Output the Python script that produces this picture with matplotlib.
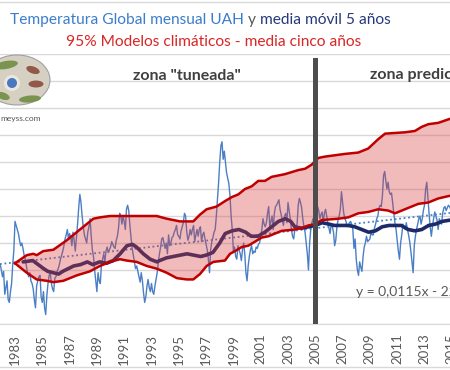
import numpy as np
import matplotlib
matplotlib.use('Agg')
import matplotlib.pyplot as plt
from matplotlib.patches import Ellipse, Circle

plt.rcParams['font.family'] = ['Lato', 'DejaVu Sans']

# UAH monthly anomalies, starting Oct 1981
uah_start = 1981 + 9 / 12
uah = [
    -0.15, -0.17, -0.16,
    -0.20, -0.25, -0.21, -0.38, -0.33, -0.28, -0.42, -0.44, -0.36, -0.30, -0.16, -0.05,  # 1982
    0.16, 0.13, 0.10, 0.07, 0.02, -0.02, 0.00, -0.04, -0.09, -0.12, -0.17, -0.22,  # 1983
    -0.25, -0.22, -0.28, -0.30, -0.34, -0.42, -0.48, -0.32, -0.28, -0.25, -0.24, -0.40,  # 1984
    -0.44, -0.36, -0.48, -0.53, -0.39, -0.30, -0.24, -0.22, -0.30, -0.34, -0.36, -0.26,  # 1985
    -0.25, -0.21, -0.19, -0.16, -0.12, -0.09, -0.06, -0.02, 0.03, 0.06, 0.10, 0.03,  # 1986
    0.07, 0.04, -0.02, 0.08, 0.02, -0.06, 0.04, 0.14, 0.26, 0.36, 0.30, 0.20,  # 1987
    0.12, 0.06, 0.03, 0.00, 0.08, 0.12, 0.18, 0.05, -0.05, -0.10, -0.20, -0.28,  # 1988
    -0.36, -0.22, -0.28, -0.30, -0.16, -0.12, -0.08, -0.14, -0.06, -0.03, -0.07, -0.05,  # 1989
    -0.03, 0.01, -0.01, -0.03, -0.04, 0.02, 0.05, 0.11, 0.22, 0.20, 0.14, 0.20,  # 1990
    0.16, 0.10, 0.25, 0.28, 0.24, 0.13, 0.04, -0.04, -0.09, -0.14, -0.19, -0.17,  # 1991
    -0.21, -0.25, -0.29, -0.22, -0.28, -0.37, -0.44, -0.40, -0.32, -0.27, -0.33, -0.36,  # 1992
    -0.30, -0.36, -0.38, -0.32, -0.27, -0.22, -0.14, -0.08, -0.03, 0.03, 0.04, 0.00,  # 1993
    -0.04, 0.00, -0.08, 0.06, -0.02, 0.00, 0.04, 0.05, 0.08, 0.10, 0.13, 0.06,  # 1994
    0.05, 0.03, 0.09, 0.12, 0.15, 0.22, 0.20, 0.08, 0.02, 0.05, 0.10, 0.06,  # 1995
    0.10, 0.13, 0.01, 0.06, 0.10, 0.05, 0.10, 0.12, 0.01, 0.06, 0.08, 0.03,  # 1996
    -0.01, -0.05, -0.12, -0.22, -0.05, 0.01, 0.04, 0.08, 0.10, 0.20, 0.32, 0.45,  # 1997
    0.60, 0.72, 0.75, 0.62, 0.68, 0.60, 0.52, 0.48, 0.44, 0.35, 0.20, 0.10,  # 1998
    -0.06, -0.03, -0.10, -0.12, -0.02, -0.05, -0.08, -0.13, -0.05, 0.00, -0.08, -0.22,  # 1999
    -0.28, -0.17, -0.10, -0.05, -0.02, -0.08, -0.06, -0.07, -0.03, -0.04, -0.01, 0.00,  # 2000
    0.05, 0.10, 0.18, 0.14, 0.12, 0.15, 0.22, 0.27, 0.12, 0.16, 0.20, 0.10,  # 2001
    0.22, 0.27, 0.28, 0.30, 0.32, 0.25, 0.21, 0.17, 0.13, 0.20, 0.22, 0.15,  # 2002
    0.30, 0.24, 0.18, 0.10, 0.05, 0.03, 0.10, 0.12, 0.14, 0.28, 0.33, 0.30,  # 2003
    0.26, 0.18, 0.12, 0.08, 0.00, -0.08, -0.20, 0.00, 0.10, 0.15, 0.18, 0.12,  # 2004
    0.20, 0.23, 0.27, 0.24, 0.18, 0.21, 0.23, 0.15, 0.22, 0.25, 0.20, 0.15,  # 2005
    0.11, 0.07, 0.14, 0.12, 0.08, -0.02, 0.02, 0.12, 0.17, 0.20, 0.25, 0.38,  # 2006
    0.30, 0.22, 0.18, 0.16, 0.12, 0.13, 0.15, 0.16, 0.14, 0.10, -0.04, 0.03,  # 2007
    -0.12, -0.20, -0.24, -0.14, -0.18, -0.21, -0.10, -0.03, 0.00, 0.05, 0.01, 0.02,  # 2008
    0.03, 0.08, 0.06, 0.06, 0.11, 0.14, 0.18, 0.20, 0.26, 0.28, 0.27, 0.35,  # 2009
    0.50, 0.53, 0.46, 0.40, 0.45, 0.38, 0.36, 0.37, 0.30, 0.22, 0.15, 0.10,  # 2010
    0.02, -0.06, -0.12, 0.00, 0.06, 0.14, 0.12, 0.10, 0.15, 0.10, 0.06, 0.01,  # 2011
    -0.06, -0.14, -0.22, -0.02, 0.05, 0.10, 0.14, 0.18, 0.20, 0.14, 0.18, 0.24,  # 2012
    0.28, 0.40, 0.45, 0.33, 0.22, 0.12, 0.05, 0.12, 0.18, 0.23, 0.20, 0.17,  # 2013
    0.10, 0.18, 0.16, 0.14, 0.22, 0.26, 0.27, 0.24, 0.26, 0.28, 0.27, 0.25,  # 2014
    0.26, 0.24, 0.22,  # 2015
]

# media movil 5 anos
ma_years = [1983.6, 1984.3, 1984.7, 1985.1, 1985.4, 1985.8, 1986.2, 1986.5, 1986.9, 1987.3,
            1987.8, 1988.3, 1988.7, 1989.2, 1989.7, 1990.2, 1990.7, 1991.2, 1991.6, 1991.9,
            1992.4, 1992.9, 1993.4, 1993.6, 1994.1, 1994.6, 1995.1, 1995.6, 1996.1, 1996.6,
            1997.0, 1997.5, 1998.0, 1998.4, 1998.9, 1999.4, 1999.9, 2000.3, 2000.8, 2001.3,
            2001.8, 2002.3, 2002.8, 2003.2, 2003.5, 2004.0, 2004.5, 2005.0, 2005.5, 2006.0,
            2006.4, 2006.9, 2007.4, 2007.9, 2008.4, 2008.9, 2009.4, 2009.9, 2010.4, 2010.8,
            2011.3, 2011.8, 2012.3, 2012.8, 2013.3, 2013.8, 2014.3, 2014.9]
ma_vals = [-0.14, -0.13, -0.16, -0.19, -0.21, -0.22, -0.23, -0.21, -0.19, -0.17,
           -0.16, -0.14, -0.16, -0.14, -0.15, -0.13, -0.08, -0.02, -0.01, -0.03,
           -0.08, -0.12, -0.14, -0.13, -0.11, -0.10, -0.09, -0.08, -0.09, -0.10,
           -0.09, -0.07, 0.00, 0.07, 0.09, 0.10, 0.08, 0.05, 0.05, 0.08,
           0.12, 0.16, 0.18, 0.16, 0.12, 0.11, 0.12, 0.13, 0.15, 0.14,
           0.13, 0.13, 0.13, 0.12, 0.10, 0.08, 0.09, 0.12, 0.13, 0.13,
           0.13, 0.10, 0.09, 0.10, 0.13, 0.14, 0.16, 0.17]

# 95% modelos climaticos (banda)
band_up_years = [1983.0, 1983.86, 1984.34, 1984.59, 1985.07, 1985.81, 1986.79, 1987.76, 1988.74, 1989.23,
                 1989.96, 1991.67, 1992.65, 1993.38, 1994.11, 1995.09, 1996.06, 1996.55, 1997.04, 1997.77,
                 1998.38, 1998.88, 1999.36, 1999.85, 2000.34, 2000.82, 2001.31, 2001.8, 2002.78, 2003.75,
                 2004.25, 2004.73, 2005.22, 2005.71, 2007.18, 2008.15, 2008.88, 2009.62, 2010.11, 2011.57,
                 2012.30, 2012.79, 2013.28, 2014.01, 2014.87, 2015.5]
band_up = [-0.15, -0.09, -0.08, -0.09, -0.06, -0.05, 0.02, 0.10, 0.18, 0.19,
           0.20, 0.20, 0.20, 0.20, 0.18, 0.16, 0.16, 0.21, 0.25, 0.27,
           0.31, 0.34, 0.36, 0.40, 0.42, 0.46, 0.46, 0.49, 0.51, 0.54,
           0.55, 0.58, 0.63, 0.64, 0.66, 0.67, 0.70, 0.77, 0.81, 0.82,
           0.83, 0.86, 0.88, 0.89, 0.92, 0.94]
band_low_years = [1983.0, 1983.86, 1984.59, 1985.32, 1985.81, 1986.54, 1987.52, 1988.49, 1989.23, 1989.96,
                  1990.69, 1991.18, 1991.91, 1992.65, 1993.38, 1994.11, 1994.85, 1995.58, 1996.06, 1996.55,
                  1997.04, 1997.53, 1998.38, 1998.75, 1999.12, 1999.61, 2000.09, 2000.58, 2001.07, 2001.56,
                  2002.05, 2002.54, 2003.51, 2004.0, 2004.49, 2004.98, 2005.47, 2006.69, 2007.42, 2008.15,
                  2008.88, 2009.62, 2010.35, 2010.84, 2011.33, 2011.81, 2012.55, 2013.28, 2014.01, 2014.87,
                  2015.5]
band_low = [-0.15, -0.22, -0.27, -0.28, -0.29, -0.28, -0.24, -0.21, -0.17, -0.14,
            -0.12, -0.13, -0.14, -0.17, -0.19, -0.22, -0.26, -0.27, -0.27, -0.23,
            -0.17, -0.14, -0.13, -0.08, -0.06, -0.03, -0.02, 0.01, 0.04, 0.05,
            0.07, 0.09, 0.10, 0.11, 0.13, 0.14, 0.17, 0.18, 0.19, 0.22,
            0.23, 0.25, 0.24, 0.22, 0.24, 0.26, 0.29, 0.30, 0.33, 0.35,
            0.37]

# tendencia lineal (extremos)
trend_years = [1981.9, 2015.5]
trend_vals = [-0.156, 0.23]
trend_label = 'y = 0,0115x - 22,948'

split_year = 2005
tick_years = list(range(1983, 2016, 2))

fig = plt.figure(figsize=(4.5, 3.7), dpi=100)
ax = fig.add_axes([0, 46 / 370, 470 / 450, 270 / 370])
px_per_year = 13.65
x_left = 1983 - 15 / px_per_year
ax.set_xlim(x_left, x_left + 470 / px_per_year)
ax.set_ylim(-0.6, 1.4)

ax.set_yticks(np.arange(-0.6, 1.41, 0.2))
ax.grid(axis='y', color='#d9d9d9', lw=1)
ax.set_axisbelow(True)
ax.set_xticks(tick_years)
ax.set_xticklabels([str(y) for y in tick_years])
ax.tick_params(axis='x', length=0, pad=7, labelsize=9.5, labelcolor='#595959', labelrotation=90)
ax.tick_params(axis='y', left=False, labelleft=False)
for s in ['top', 'left', 'right']:
    ax.spines[s].set_visible(False)
ax.spines['bottom'].set_color('#d9d9d9')

uah_x = uah_start + np.arange(len(uah)) / 12
ax.plot(uah_x, uah, color='#4a7fc6', lw=1, zorder=2)
ax.plot(trend_years, trend_vals, color='#4a7fc6', lw=1.3, ls=(0, (1, 1.5)), zorder=2.5)
ax.plot(ma_years, ma_vals, color='#1c2a68', lw=2.6, zorder=3, solid_capstyle='round')

ax.fill(np.r_[band_up_years, band_low_years[::-1]], np.r_[band_up, band_low[::-1]],
        color='#dc3c3c', alpha=0.35, lw=0, zorder=4)
ax.plot(band_up_years, band_up, color='#c00000', lw=1.8, zorder=5)
ax.plot(band_low_years, band_low, color='#c00000', lw=1.8, zorder=5)

ax.axvline(split_year, ymax=(324 - 60) / 270, color='#4d4d4d', lw=3.6, zorder=6)

# titulo en varios colores
r = fig.canvas.get_renderer()
x = 10 / 450
for s, c in [('Temperatura Global mensual UAH', '#3b7dcc'), (' y ', '#595959'),
             ('media móvil 5 años', '#263a7a')]:
    t = fig.text(x, 1 - 20 / 370, s, color=c, fontsize=11.2, va='center', ha='left')
    x = t.get_window_extent(renderer=r).x1 / fig.bbox.width
fig.text(214 / 450, 1 - 42 / 370, '95% Modelos climáticos - media cinco años',
         color='#d92626', fontsize=11.2, ha='center', va='center')

fig.text(187 / 450, 1 - 76 / 370, 'zona "tuneada"', fontsize=11.5, weight='bold',
         color='#404040', ha='center', va='center')
fig.text(370 / 450, 1 - 75 / 370, 'zona predictiva', fontsize=11.5, weight='bold',
         color='#404040', ha='left', va='center')
fig.text(356 / 450, 1 - 292 / 370, trend_label, fontsize=10, color='#595959',
         ha='left', va='center')

# logo y bordes
ov = fig.add_axes([0, 0, 1, 1], zorder=10)
ov.set_xlim(0, 450)
ov.set_ylim(370, 0)
ov.axis('off')
ov.patch.set_alpha(0)
ov.add_patch(Ellipse((17, 80), 66, 50, fc='#d6d0c3', ec='#a0a0a0', lw=0.8))
ov.add_patch(Ellipse((6, 65), 24, 8, angle=-10, fc='#7a9450', lw=0))
ov.add_patch(Ellipse((30, 99), 22, 7, angle=-5, fc='#7a9450', lw=0))
ov.add_patch(Ellipse((3, 96), 14, 7, angle=20, fc='#7a9450', lw=0))
ov.add_patch(Ellipse((33, 70), 14, 7, angle=20, fc='#92594a', lw=0))
ov.add_patch(Ellipse((36, 84), 15, 7, fc='#92594a', lw=0))
ov.add_patch(Circle((12, 83), 8, fc='#ebe7df', lw=0))
ov.add_patch(Circle((12, 83), 5, fc='#4a78c0', lw=0))
ov.text(0, 119, 'meyss.com', fontsize=6, color='#555555', va='center', ha='left')
ov.axhline(1.5, color='#d9d9d9', lw=1)
ov.axhline(367, color='#d9d9d9', lw=1)

fig.savefig('out.png', dpi=100)
